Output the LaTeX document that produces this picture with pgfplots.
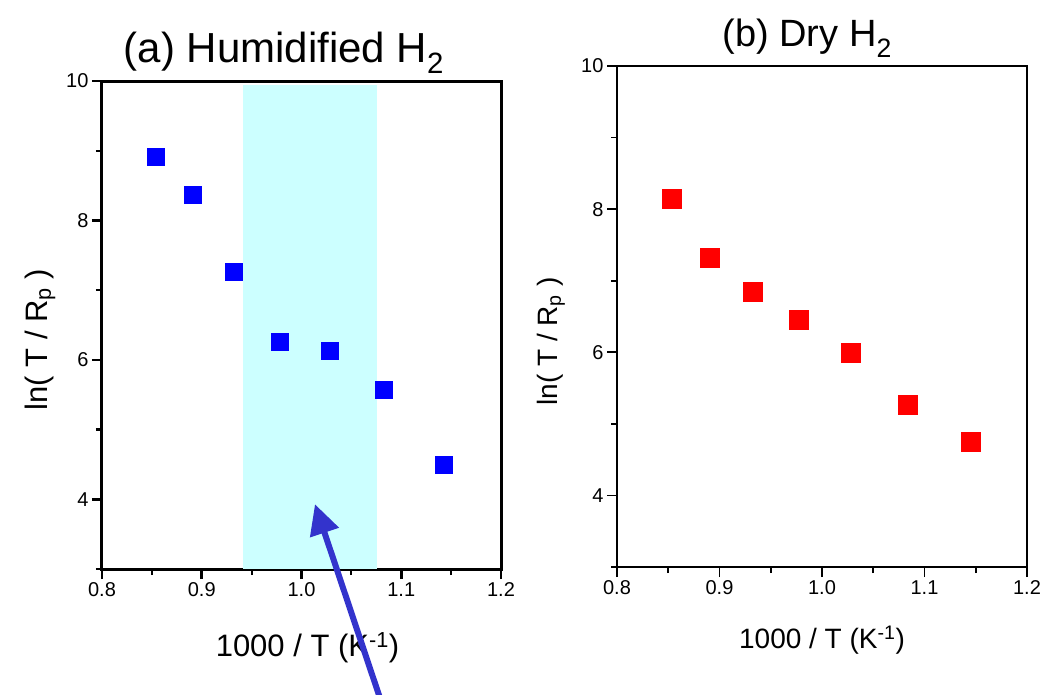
\documentclass[border=0pt]{standalone}
\usepackage{fontspec}
\setmainfont{Liberation Sans}
\usepackage{pgfplots}
\pgfplotsset{compat=1.18}
\usetikzlibrary{arrows.meta}

\definecolor{bandcyan}{RGB}{204,255,255}
\definecolor{arrowblue}{RGB}{51,51,204}
\definecolor{ptblue}{RGB}{0,0,255}
\definecolor{ptred}{RGB}{255,0,0}

\pgfplotsset{
  arrpanel/.style={
    scale only axis,
    xmin=0.8, xmax=1.2, ymin=3, ymax=10,
    xtick={0.8,0.9,1.0,1.1,1.2},
    minor xtick={0.85,0.95,1.05,1.15},
    ytick={4,6,8,10},
    minor ytick={3,5,7,9},
    tick pos=left, tick align=outside,
    major tick length=10pt, minor tick length=6pt,
    xticklabel={\pgfmathprintnumber[fixed, fixed zerofill, precision=1]{\tick}},
    xticklabel style={font=\fontsize{20}{22}\selectfont},
    yticklabel style={font=\fontsize{20}{22}\selectfont},
    clip=false,
    /pgf/number format/assume math mode=true,
  }
}

\begin{document}
\begin{tikzpicture}

% (a) humidified
\begin{axis}[
  arrpanel,
  name=pa,
  at={(0pt,0pt)}, anchor=south west,
  width=399pt, height=488pt,
  axis line style={line width=3pt},
  major tick style={line width=2.6pt, black},
  minor tick style={line width=2.2pt, black},
  xlabel={1000 / T (K\textsuperscript{-1})},
  ylabel={ln( T / R\textsubscript{p} )},
  label style={font=\fontsize{31}{34}\selectfont},
  xlabel style={at={(axis description cs:0.5,0)}, anchor=center, yshift=-79pt, xshift=6pt},
  ylabel style={at={(axis description cs:-0.155,0.47)}, anchor=center},
]
\fill[bandcyan] (axis cs:0.941,3) rectangle (axis cs:1.0756,9.94);
\addplot[only marks, mark=square*, mark size=8.5pt, ptblue, mark options={fill=ptblue, draw=none}]
  coordinates {(0.854,8.91) (0.891,8.37) (0.932,7.26) (0.978,6.26) (1.028,6.13) (1.082,5.57) (1.143,4.50)};
\coordinate (tip) at (axis cs:1.0135,3.93);
\coordinate (tail) at (axis cs:1.0845,0.9);
\node[anchor=base, font=\fontsize{42}{46}\selectfont] at ([yshift=19pt]axis description cs:0.456,1) {(a) Humidified H\textsubscript{2}};
\end{axis}

% (b) dry
\begin{axis}[
  arrpanel,
  name=pb,
  at={(515pt,2pt)}, anchor=south west,
  width=410pt, height=501pt,
  axis line style={line width=2pt},
  major tick style={line width=1.8pt, black},
  minor tick style={line width=1.6pt, black},
  xlabel={1000 / T (K\textsuperscript{-1})},
  ylabel={ln( T / R\textsubscript{p} )},
  label style={font=\fontsize{28}{31}\selectfont},
  xlabel style={at={(axis description cs:0.5,0)}, anchor=center, yshift=-73pt},
  ylabel style={at={(axis description cs:-0.161,0.45)}, anchor=center},
]
\addplot[only marks, mark=square*, mark size=9.5pt, ptred, mark options={fill=ptred, draw=none}]
  coordinates {(0.853,8.14) (0.890,7.32) (0.932,6.85) (0.977,6.46) (1.028,5.99) (1.084,5.27) (1.145,4.75)};
\node[anchor=base, font=\fontsize{38}{42}\selectfont] at ([yshift=19pt]axis description cs:0.464,1) {(b) Dry H\textsubscript{2}};
\end{axis}

\draw[arrowblue, line width=6pt, -{Triangle[length=30pt, width=29pt]}] (tail) -- (tip);

\pgfresetboundingbox
\useasboundingbox (-102pt,-125pt) rectangle (950pt,569pt);
\end{tikzpicture}
\end{document}
